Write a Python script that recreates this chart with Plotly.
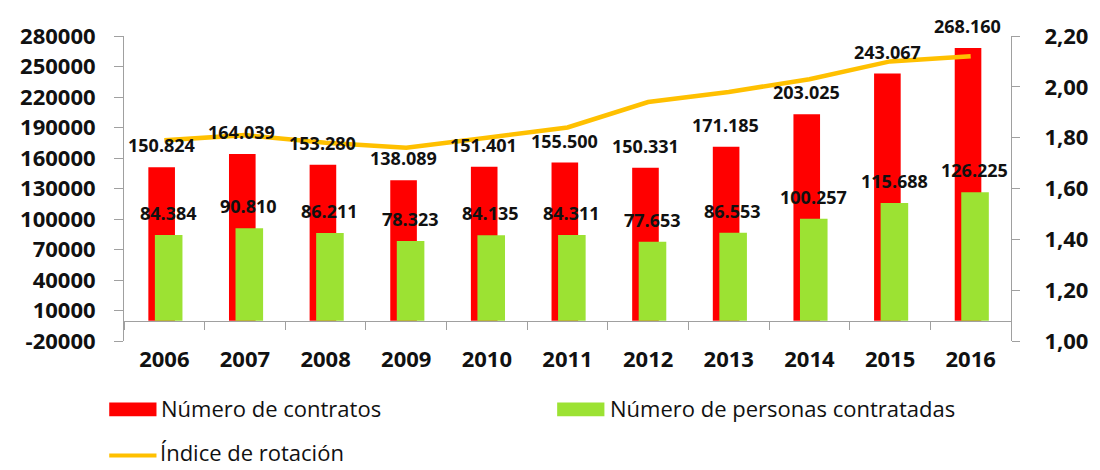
import plotly.graph_objects as go

# ---- data ----
years = ["2006", "2007", "2008", "2009", "2010", "2011", "2012", "2013", "2014", "2015", "2016"]
contratos = [150824, 164039, 153280, 138089, 151401, 155500, 150331, 171185, 203025, 243067, 268160]
personas = [84384, 90810, 86211, 78323, 84135, 84311, 77653, 86553, 100257, 115688, 126225]
indice = [1.79, 1.81, 1.78, 1.76, 1.80, 1.84, 1.94, 1.98, 2.03, 2.10, 2.12]

left_ticks = [-20000, 10000, 40000, 70000, 100000, 130000, 160000, 190000, 220000, 250000, 280000]
left_ticktext = ["-20000", "10000", "40000", "70000", "100000", "130000", "160000", "190000", "220000", "250000", "280000"]
right_ticks = [1.0, 1.2, 1.4, 1.6, 1.8, 2.0, 2.2]
right_ticktext = ["1,00", "1,20", "1,40", "1,60", "1,80", "2,00", "2,20"]

names = ["Número de contratos", "Número de personas contratadas", "Índice de rotación"]

RED = "#FF0000"
GREEN = "#9CE233"
GOLD = "#FFC000"
AXIS = "#A0A0A0"
NUMFONT = "Open Sans"

# page body has an 8px default margin: figure occupies 8..1100 x 8..470
OFF = 8
W, H = 1100 - OFF, 470 - OFF
L = 122 - OFF
T = 29 - OFF
R = 1100 - 1023
B = 470 - 341
PW, PH = W - L - R, H - T - B


def px(x):
    return (x - OFF - L) / PW


def py(y):
    return (H - B - (y - OFF)) / PH


def fmt(v):
    return f"{v:,}".replace(",", ".")


fig = go.Figure()
fig.add_bar(x=years, y=contratos, name=names[0], marker=dict(color=RED, line=dict(width=0)),
            offset=-0.198, width=0.33, showlegend=False)
fig.add_bar(x=years, y=personas, name=names[1], marker=dict(color=GREEN, line=dict(width=0)),
            offset=-0.117, width=0.342, showlegend=False)
fig.add_scatter(x=years, y=indice, name=names[2], yaxis="y2", mode="lines",
                line=dict(color=GOLD, width=4.5), showlegend=False)

lab_font = dict(family=NUMFONT, size=18, color="#111111", weight="bold")
annotations = []
for i, (c, p) in enumerate(zip(contratos, personas)):
    annotations.append(dict(x=i, y=c, xref="x", yref="y", text=fmt(c), showarrow=False,
                            xshift=-3, yshift=22, yanchor="middle", font=lab_font))
    annotations.append(dict(x=i, y=p, xref="x", yref="y", text=fmt(p), showarrow=False,
                            xshift=4, yshift=22, yanchor="middle", font=lab_font))

# manual legend
shapes = [
    dict(type="rect", xref="paper", yref="paper", x0=px(107), x1=px(155), y0=py(418), y1=py(404),
         fillcolor=RED, line=dict(width=0)),
    dict(type="rect", xref="paper", yref="paper", x0=px(562), x1=px(610), y0=py(418), y1=py(404),
         fillcolor=GREEN, line=dict(width=0)),
    dict(type="line", xref="paper", yref="paper", x0=px(107), x1=px(155), y0=py(458), y1=py(458),
         line=dict(color=GOLD, width=4)),
]
leg_font = dict(family="Open Sans", size=22, color="#111111")
for text, x, y in [(names[0], 158, 410), (names[1], 614, 410), (names[2], 157, 455)]:
    annotations.append(dict(x=px(x), y=py(y), xref="paper", yref="paper", text=text, showarrow=False,
                            xanchor="left", yanchor="middle", font=leg_font))

tickfont = dict(family=NUMFONT, size=22, color="#111111", weight="bold")

fig.update_layout(
    width=W, height=H,
    margin=dict(l=L, r=R, t=T, b=B, pad=0),
    paper_bgcolor="white", plot_bgcolor="white",
    barmode="overlay",
    showlegend=False,
    xaxis=dict(type="category", range=[-0.5, 10.5], tickson="boundaries", ticks="outside",
               ticklen=8, tickcolor=AXIS, showline=True, linecolor=AXIS, linewidth=1,
               showgrid=False, zeroline=False, anchor="free", position=20 / PH,
               tickfont=tickfont, ticklabelstandoff=18),
    yaxis=dict(range=[-20000, 280000], tickvals=left_ticks, ticktext=left_ticktext,
               ticks="outside", ticklen=9, tickcolor=AXIS, showline=True, linecolor=AXIS,
               linewidth=1, showgrid=False, zeroline=False, tickfont=tickfont,
               ticklabelstandoff=14),
    yaxis2=dict(range=[1.0, 2.2], tickvals=right_ticks, ticktext=right_ticktext, overlaying="y",
                side="right", ticks="outside", ticklen=8, tickcolor=AXIS, showline=True,
                linecolor=AXIS, linewidth=1, showgrid=False, zeroline=False, tickfont=tickfont,
                ticklabelstandoff=20),
    annotations=annotations,
    shapes=shapes,
)

fig.write_html("out.html")
